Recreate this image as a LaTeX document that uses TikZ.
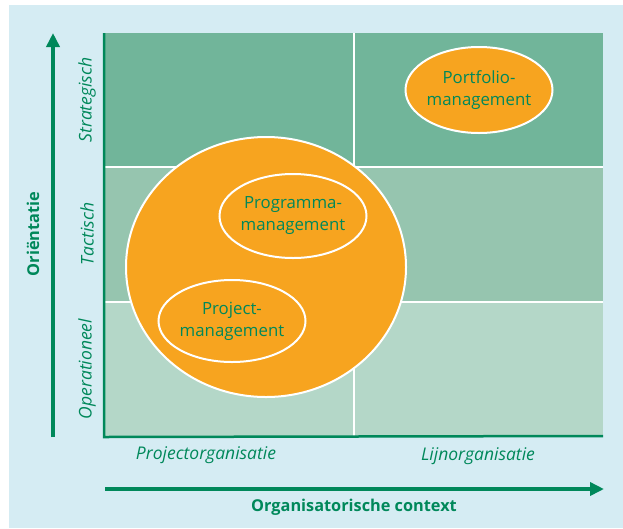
\documentclass[tikz,border=0pt]{standalone}
\usepackage{fontspec}
\setmainfont{Open Sans}
\usetikzlibrary{arrows.meta,shapes.geometric}
\definecolor{bgblue}{HTML}{D5ECF3}
\definecolor{rowtop}{HTML}{71B59A}
\definecolor{rowmid}{HTML}{96C5AF}
\definecolor{rowlow}{HTML}{B4D7C8}
\definecolor{dgreen}{HTML}{00885A}
\definecolor{orangefill}{HTML}{F7A41F}
\tikzset{
  cell/.style={draw=white, line width=2pt},
  blob/.style={ellipse, fill=orangefill, draw=white, line width=2pt, inner sep=0pt},
  ovallabel/.style={text=dgreen, font=\fontsize{16.8}{22}\selectfont, align=center},
  rowlabel/.style={text=dgreen, font=\fontsize{17.5}{20}\selectfont\itshape, rotate=90},
  collabel/.style={text=dgreen, font=\fontsize{17.5}{20}\selectfont\itshape},
  axislabel/.style={text=dgreen, font=\fontsize{16.3}{19}\selectfont\bfseries},
  axisarrow/.style={draw=dgreen, line width=4pt, -{Triangle[length=14pt,width=13pt]}},
  axisline/.style={draw=dgreen, line width=2.5pt}
}
\begin{document}
\begin{tikzpicture}[x=1pt, y=-1pt]
\useasboundingbox (0,0) rectangle (623,528);
\fill[bgblue] (9,5) rectangle (623,528);
% grid of six cells
\fill[rowtop] (104,33) rectangle (603,167);
\fill[rowmid] (104,167) rectangle (603,302);
\fill[rowlow] (104,302) rectangle (603,436);
\draw[cell] (104,167) -- (603,167);
\draw[cell] (104,302) -- (603,302);
\draw[cell] (354,33) -- (354,436);
% axes of the grid
\coordinate (yo) at (104,437);
\coordinate (yt) at (104,33);
\coordinate (xe) at (603,436);
\draw[axisline] (yt) -- (yo) -- (xe);
% orange ellipses
\node[blob, minimum width=280pt, minimum height=260pt] (big) at (266,267) {};
\node[blob, minimum width=147pt, minimum height=84pt] (prog) at (293,216) {};
\node[ovallabel] at (prog) {Programma-\\management};
\node[blob, minimum width=147pt, minimum height=82pt] (proj) at (232,321) {};
\node[ovallabel] at (proj) {Project-\\management};
\node[blob, minimum width=147pt, minimum height=86pt] (port) at (479,90) {};
\node[ovallabel] at (port) {Portfolio-\\management};
% row and column labels
\node[rowlabel] (strat) at (87,100) {Strategisch};
\node[rowlabel] (tact) at (87,234) {Tactisch};
\node[rowlabel] (oper) at (87,369) {Operationeel};
\node[collabel] (porg) at (206,455) {Projectorganisatie};
\node[collabel] (lorg) at (478,456) {Lijnorganisatie};
% outer axes
\coordinate (vs) at (53,437);
\coordinate (ve) at (53,33);
\coordinate (hs) at (105,489);
\coordinate (he) at (604,489);
\draw[axisarrow] (vs) -- (ve);
\draw[axisarrow] (hs) -- (he);
\node[axislabel, rotate=90] (ori) at (33,234) {Oriëntatie};
\node[axislabel] (ctx) at (354,507) {Organisatorische context};
\end{tikzpicture}
\end{document}
